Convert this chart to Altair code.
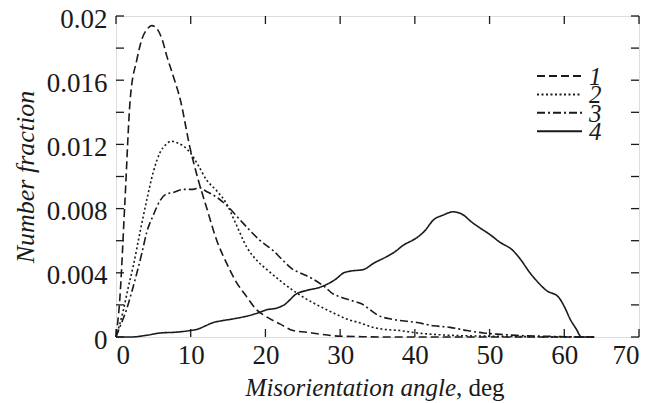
import altair as alt
import pandas as pd

# Series 1 (dashed)
x1 = [0, 0.5, 1.2, 1.9, 2.8, 3.5, 4.2, 4.8, 5.5, 6.2, 6.8, 7.7, 8.6, 9.9, 11, 12.1, 13.5, 14.8, 16, 17.5,
      18.8, 20, 22, 23.7, 25.5, 27, 30, 33, 36, 40, 45, 50, 55, 60, 64]
y1 = [0, 0.0023, 0.0085, 0.0148, 0.0173, 0.0186, 0.0192, 0.0194, 0.0192, 0.0185, 0.0175, 0.0162, 0.0148,
      0.0118, 0.0098, 0.0081, 0.006, 0.0046, 0.0035, 0.0025, 0.0017, 0.0013, 0.0008, 0.0004, 0.0003, 0.0002,
      0.00005, 0.00002, 0, 0, 0, 0, 0, 0, 0]

# Series 2 (dotted)
x2 = [0, 0.5, 1, 1.6, 2.3, 3.2, 4.1, 5, 5.9, 6.7, 7.4, 8.2, 9, 9.9, 11, 12.1, 13.5, 14.8, 16, 17.5, 19, 20.2,
      22, 23.7, 25, 26.5, 28.2, 30, 31, 32.5, 34.4, 35.5, 38, 40.3, 43, 45, 50, 55, 60, 64]
y2 = [0, 0.0008, 0.0017, 0.003, 0.0044, 0.0065, 0.0085, 0.0103, 0.0115, 0.012, 0.0122, 0.0121, 0.0119,
      0.0115, 0.0107, 0.0098, 0.0091, 0.0083, 0.0071, 0.0056, 0.0047, 0.0042, 0.0035, 0.0029, 0.0025, 0.0021,
      0.0017, 0.0013, 0.0011, 0.0009, 0.0006, 0.0005, 0.0004, 0.00025, 0.00015, 0.0001, 0.00005, 0.00002, 0, 0]

# Series 3 (dash-dot)
x3 = [0, 0.5, 1.4, 2.1, 2.8, 3.5, 4.1, 5, 5.9, 6.7, 7.6, 9, 10.3, 11.2, 12, 13.5, 14.8, 16.6, 18, 19.3, 21,
      22.5, 23.7, 24.6, 26.4, 28, 29, 30, 31.3, 32.7, 35.3, 37, 40.3, 42.5, 44.7, 47, 49.2, 51, 53.6, 57, 60, 64]
y3 = [0, 0.0006, 0.0017, 0.0028, 0.004, 0.0053, 0.0065, 0.0076, 0.0085, 0.0089, 0.009, 0.0092, 0.0092,
      0.0093, 0.0091, 0.0087, 0.0082, 0.0073, 0.0066, 0.006, 0.0054, 0.0047, 0.0042, 0.004, 0.0036, 0.0031,
      0.0027, 0.0025, 0.0023, 0.0021, 0.0013, 0.0011, 0.0009, 0.0007, 0.0006, 0.0004, 0.00025, 0.00018,
      0.0001, 0.00005, 0.00002, 0]

# Series 4 (solid)
x4 = [0, 2, 4, 5.9, 8, 9.9, 11, 12, 13, 14, 15.3, 16.5, 17.5, 19, 20.2, 21.5, 22.5, 24.2, 25.5, 27.3, 28.3,
      29.4, 30.5, 31.3, 33.1, 34.5, 36.2, 37.3, 38.4, 40.3, 41.3, 42.5, 43.8, 45.1, 46.5, 47.5, 48.7, 50,
      51.4, 53.1, 54.2, 55.4, 56.5, 57.6, 59.2, 60, 60.8, 61.6, 62.3, 64]
y4 = [0, 0, 0.0001, 0.00025, 0.0003, 0.0004, 0.0005, 0.0007, 0.0009, 0.001, 0.0011, 0.0012, 0.0013, 0.0015,
      0.0017, 0.0018, 0.002, 0.0027, 0.0029, 0.0031, 0.0033, 0.0036, 0.004, 0.0041, 0.0042, 0.0046, 0.005,
      0.0053, 0.0057, 0.0062, 0.0066, 0.0073, 0.0076, 0.0078, 0.0076, 0.0072, 0.0068, 0.0064, 0.0059,
      0.0054, 0.0048, 0.004, 0.0034, 0.0029, 0.0025, 0.0019, 0.0011, 0.0005, 0, 0]

series_names = ["1", "2", "3", "4"]
dashes = [[8, 4], [2, 2.5], [8, 3, 2, 3], [1, 0]]
x_ticks = [0, 10, 20, 30, 40, 50, 60, 70]
y_labels = [0, 0.004, 0.008, 0.012, 0.016, 0.02]
y_ticks = [0, 0.002, 0.004, 0.006, 0.008, 0.010, 0.012, 0.014, 0.016, 0.018, 0.02]

rows = []
for name, xs, ys in zip(series_names, [x1, x2, x3, x4], [y1, y2, y3, y4]):
    for i, (a, b) in enumerate(zip(xs, ys)):
        rows.append({"series": name, "angle": a, "frac": b, "order": i})
df = pd.DataFrame(rows)

W, H = 523, 321
FONT = "Liberation Serif"
INK = "#1a1a1a"
TICK = 8

xscale = alt.Scale(domain=[0, 70], nice=False, zero=False)
yscale = alt.Scale(domain=[0, 0.02], nice=False)

lines = alt.Chart(df).mark_line(strokeWidth=1.6, color=INK, interpolate="monotone").encode(
    x=alt.X("angle:Q", scale=xscale,
            axis=alt.Axis(values=x_ticks, ticks=False, domain=False, grid=False, title=None,
                          labelFont=FONT, labelFontSize=27, labelPadding=5, labelColor=INK)),
    y=alt.Y("frac:Q", scale=yscale,
            axis=alt.Axis(values=y_labels, format="~g", ticks=False, domain=False, grid=False,
                          title="Number fraction", titleFont=FONT, titleFontSize=26,
                          titleFontStyle="italic", titleFontWeight="normal", titleColor=INK,
                          titleAngle=270, titleX=-83, titleY=H / 2, titleAlign="center",
                          titleBaseline="alphabetic",
                          labelFont=FONT, labelFontSize=27, labelPadding=9, labelOffset=3,
                          labelColor=INK)),
    strokeDash=alt.StrokeDash("series:N", scale=alt.Scale(domain=series_names, range=dashes),
                              legend=None),
    detail="series:N",
    order="order:Q",
)

xt = pd.DataFrame({"v": x_ticks})
yt = pd.DataFrame({"v": y_ticks})

xb = alt.Chart(xt).mark_rule(color=INK, strokeWidth=1.3).encode(
    x=alt.X("v:Q", scale=xscale), y=alt.value(H), y2=alt.value(H - TICK))
xtop = alt.Chart(xt).mark_rule(color=INK, strokeWidth=1.3).encode(
    x=alt.X("v:Q", scale=xscale), y=alt.value(0), y2=alt.value(TICK))
yl = alt.Chart(yt).mark_rule(color=INK, strokeWidth=1.3).encode(
    y=alt.Y("v:Q", scale=yscale), x=alt.value(0), x2=alt.value(TICK))
yr = alt.Chart(yt).mark_rule(color=INK, strokeWidth=1.3).encode(
    y=alt.Y("v:Q", scale=yscale), x=alt.value(W - TICK), x2=alt.value(W))

# legend (key lines + italic labels)
legend_layers = []
for i, (name, dash) in enumerate(zip(series_names, dashes)):
    ldf = pd.DataFrame({"label": [name]})
    ly = 60 + i * 18.4
    legend_layers.append(alt.Chart(ldf).mark_rule(color=INK, strokeWidth=2, strokeDash=dash).encode(
        x=alt.value(421), x2=alt.value(466), y=alt.value(ly)))
    legend_layers.append(alt.Chart(ldf).mark_text(font=FONT, fontSize=25, fontStyle="italic",
                                                  align="left", baseline="middle", color=INK).encode(
        text="label:N", x=alt.value(473), y=alt.value(ly + 1)))

title_df = pd.DataFrame({"a": ["Misorientation angle"], "b": [", deg"]})
t1 = alt.Chart(title_df).mark_text(font=FONT, fontSize=25, fontStyle="italic", align="right",
                                   baseline="alphabetic", color=INK).encode(
    text="a:N", x=alt.value(340), y=alt.value(380))
t2 = alt.Chart(title_df).mark_text(font=FONT, fontSize=25, align="left",
                                   baseline="alphabetic", color=INK).encode(
    text="b:N", x=alt.value(340), y=alt.value(380))

chart = alt.layer(lines, xb, xtop, yl, yr, *legend_layers, t1, t2).properties(
    width=W, height=H,
    autosize=alt.AutoSizeParams(type="none"),
    padding={"left": 108, "top": 8, "right": 20, "bottom": 66},
).configure_view(stroke=INK, strokeWidth=2.2).configure(background="white")

chart.save("out.html", embed_options={"renderer": "svg", "actions": False})
